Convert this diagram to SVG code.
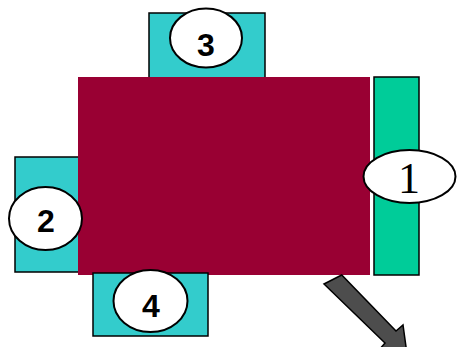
<svg xmlns="http://www.w3.org/2000/svg" width="458" height="347" viewBox="0 0 458 347">
<style>
.pad{fill:#33CCCC;stroke:#000;stroke-width:1.5}
.oval{fill:#fff;stroke:#000;stroke-width:2}
.num{font-family:"Liberation Sans",Arial,sans-serif;font-weight:bold;font-size:32px;text-anchor:middle;fill:#000}
.serif{font-family:"Liberation Serif","Times New Roman",serif;font-size:44px;text-anchor:middle;fill:#000}
</style>
<rect width="458" height="347" fill="#fff"/>
<g id="node3"><rect class="pad" x="149" y="13" width="116" height="70"/></g>
<g id="node2"><rect class="pad" x="15" y="157" width="70" height="115"/></g>
<g id="table"><rect x="78" y="77" width="292" height="198" fill="#990033"/></g>
<g id="node1">
<rect x="374" y="77" width="45" height="198" fill="#00CC99" stroke="#000" stroke-width="1.5"/>
<ellipse class="oval" cx="409.5" cy="176.5" rx="46" ry="26.5"/>
<text class="serif" x="409" y="193">1</text>
</g>
<g id="node3-label">
<ellipse class="oval" cx="206" cy="38" rx="36" ry="29.5"/>
<text class="num" x="206" y="56">3</text>
</g>
<g id="node2-label">
<ellipse class="oval" cx="45.5" cy="218.5" rx="36.5" ry="31.5"/>
<text class="num" x="46" y="232">2</text>
</g>
<g id="node4">
<rect class="pad" x="93" y="273" width="115" height="63"/>
<ellipse class="oval" cx="150.5" cy="301" rx="37" ry="31"/>
<text class="num" x="151" y="317">4</text>
</g>
<g id="connectors">
<polygon points="324,284 341.7,275 396,331 403,325 407,354 379,350 385,343" fill="#4D4D4D" stroke="#000" stroke-width="1.5" stroke-linejoin="miter"/>
</g>
</svg>
